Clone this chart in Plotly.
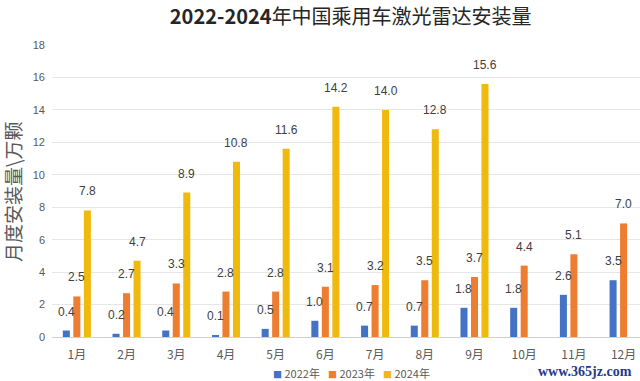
import plotly.graph_objects as go

months = ["1月", "2月", "3月", "4月", "5月", "6月", "7月", "8月", "9月", "10月", "11月", "12月"]
v2022 = [0.4, 0.2, 0.4, 0.1, 0.5, 1.0, 0.7, 0.7, 1.8, 1.8, 2.6, 3.5]
v2023 = [2.5, 2.7, 3.3, 2.8, 2.8, 3.1, 3.2, 3.5, 3.7, 4.4, 5.1, 7.0]
v2024 = [7.8, 4.7, 8.9, 10.8, 11.6, 14.2, 14.0, 12.8, 15.6, None, None, None]
series_names = ["2022年", "2023年", "2024年"]
colors = ["#4472C4", "#ED7D31", "#F0B90E"]
y_ticks = [0, 2, 4, 6, 8, 10, 12, 14, 16, 18]

fig = go.Figure()
all_vals = [v2022, v2023, v2024]
for name, vals, c in zip(series_names, all_vals, colors):
    fig.add_trace(go.Bar(x=months, y=vals, name=name, showlegend=False,
                         marker=dict(color=c, line=dict(width=0))))

PW = 588.0  # plot width in px
PH = 292.0  # plot height in px

annotations = []
shifts = [-10.5, 0, 10.5]
for vals, sh in zip(all_vals, shifts):
    for m, v in zip(months, vals):
        if v is None:
            continue
        annotations.append(dict(x=m, y=v, xref="x", yref="y", text=f"{v:.1f}",
                                showarrow=False, xshift=sh, yshift=10, yanchor="bottom",
                                font=dict(family="Liberation Sans, Arial", size=12, color="#404040")))

# y axis title
annotations.append(dict(x=(13 - 52) / PW, y=0.497, xref="paper", yref="paper", text="月度安装量\\万颗",
                        textangle=-90, showarrow=False, xanchor="center", yanchor="middle",
                        font=dict(family="Noto Sans CJK SC", size=19, color="#595959")))

# legend (compact, as in the reference)
legend_left = [272, 327, 382]
for name, c, lx in zip(series_names, colors, legend_left):
    annotations.append(dict(x=(lx - 52) / PW, y=(337 - 373) / PH, xref="paper", yref="paper",
                            text=f"<span style='color:{c};font-size:9px'>■</span> {name}",
                            showarrow=False, xanchor="left", yanchor="middle", borderpad=0,
                            font=dict(family="Noto Sans CJK SC", size=11, color="#595959")))

# watermark text
annotations.append(dict(x=(633 - 52) / PW, y=(337 - 371) / PH, xref="paper", yref="paper",
                        text="<b>www.365jz.com</b>", showarrow=False, xanchor="right", yanchor="middle",
                        borderpad=0,
                        font=dict(family="Liberation Serif", size=14, color="#1F3B8A")))

fig.update_layout(
    width=640, height=381,
    margin=dict(l=52, r=0, t=45, b=44, autoexpand=False),
    paper_bgcolor="white", plot_bgcolor="white",
    title=dict(text="<b>2022-2024</b>年中国乘用车激光雷达安装量", x=0.548, xanchor="center",
               y=1 - 17 / 381, yanchor="middle",
               font=dict(family="Noto Sans CJK SC", size=20, color="#262626")),
    barmode="group", bargap=0.366, bargroupgap=0.33,
    showlegend=False,
    annotations=annotations,
    xaxis=dict(range=[-0.5, 11.33], showgrid=False, showline=False, ticks="", automargin=False,
               ticklabelstandoff=9,
               tickfont=dict(family="Noto Sans CJK SC", size=12, color="#595959")),
    yaxis=dict(range=[0, 18], tickvals=y_ticks, showgrid=True, gridcolor="#E6E6E6", automargin=False,
               ticklabelstandoff=6,
               zeroline=True, zerolinecolor="#D0D0D0", zerolinewidth=1, ticks="",
               tickfont=dict(family="Liberation Sans, Arial", size=11, color="#595959")),
)

fig.write_html("out.html", config={"displayModeBar": False},
               post_script="document.body.style.margin='0px';")
